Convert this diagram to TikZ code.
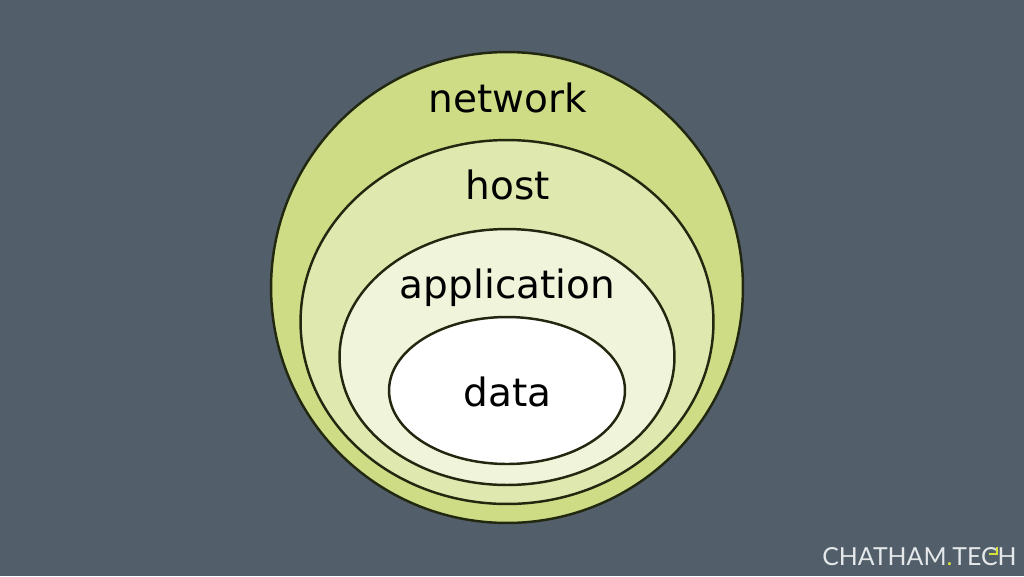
\documentclass[tikz,border=0pt]{standalone}
\usepackage{xcolor}
\usepackage{fontspec}
\setmainfont{DejaVu Sans}
\newfontfamily\logofont{Lato}
\usetikzlibrary{shapes.geometric, positioning}
\definecolor{mybg}{RGB}{82,94,105}
\definecolor{myline}{RGB}{34,40,16}
\definecolor{mynet}{RGB}{205,220,133}
\definecolor{myhost}{RGB}{222,232,175}
\definecolor{myapp}{RGB}{239,244,218}
\definecolor{mylogo}{RGB}{228,232,235}
\definecolor{myyellow}{RGB}{214,222,60}
\tikzset{
  layer/.style={ellipse, draw=myline, line width=1.4pt, inner sep=0pt, outer sep=0pt},
  layertxt/.style={inner sep=0pt, anchor=base, font=\fontsize{22.2}{26}\selectfont, text=black},
  logotxt/.style={inner sep=0pt, font=\fontsize{14.15}{16}\logofont, text=mylogo}
}
\begin{document}
\begin{tikzpicture}[x=0.02cm, y=-0.02cm]
  \fill[mybg] (0,0) rectangle (1024,576);
  \useasboundingbox (0,0) rectangle (1024,576);

  \node[layer, fill=mynet, minimum width=9.44cm, minimum height=9.42cm] (network) at (507,287.5) {};
  \node[layer, fill=myhost, minimum width=8.26cm, minimum height=7.28cm] (host) at (507,322) {};
  \node[layer, fill=myapp, minimum width=6.7cm, minimum height=5.12cm] (application) at (507,357) {};
  \node[layer, fill=white, minimum width=4.72cm, minimum height=2.94cm] (data) at (507,390.5) {};

  \node[layertxt] (networktxt) at (507.5,112) {network};
  \node[layertxt] (hosttxt) at (507.5,199.7) {host};
  \node[layertxt] (applicationtxt) at (507.5,298.3) {application};
  \node[layertxt] (datatxt) at (507.5,406.3) {data};

  \node[logotxt] (logo) at (919.5,557) {CHATHAM\textcolor{myyellow}{.}TECH};
  \draw[myyellow, line width=0.9pt] (989,554) -- (997,554) -- (997,547);
\end{tikzpicture}
\end{document}
